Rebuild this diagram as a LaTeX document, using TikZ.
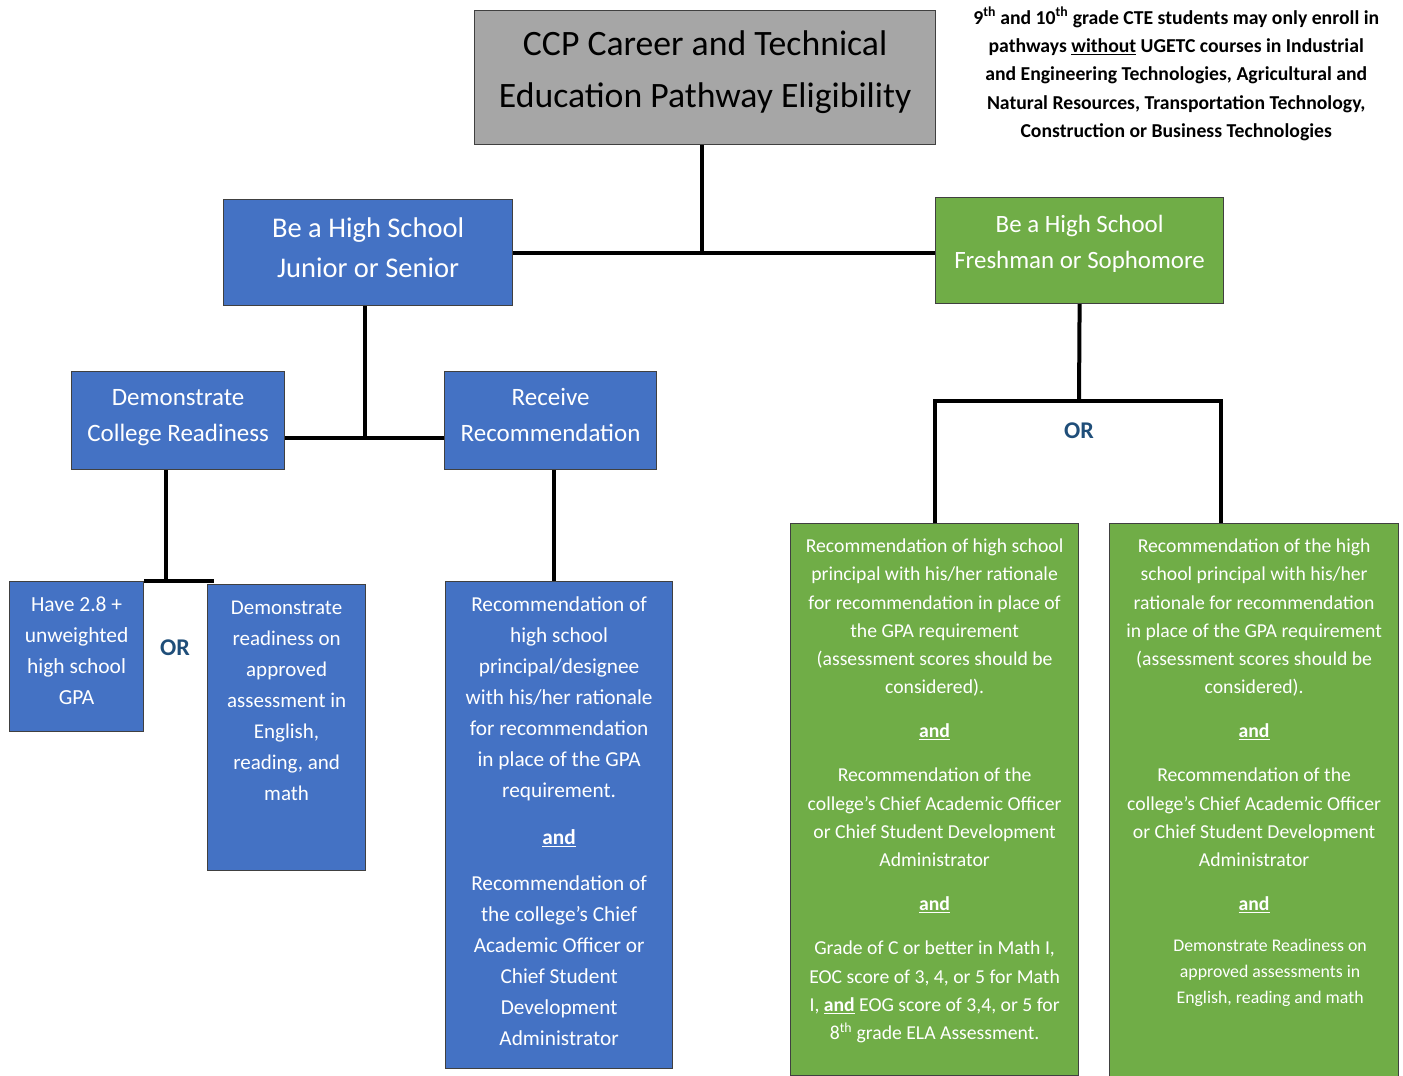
\documentclass[tikz,border=0pt]{standalone}
\usepackage{fontspec}
\setmainfont{Carlito}
\definecolor{azul}{HTML}{4472C4}
\definecolor{verde}{HTML}{70AD47}
\definecolor{gris}{HTML}{A6A6A6}
\definecolor{azuloscuro}{HTML}{1F4E79}
% alto, ancho, margen superior, texto
\newcommand{\textocaja}[4]{\parbox[c][#1][t]{#2}{\centering\vspace*{#3}\strut#4\par}}
\newcommand{\yy}{\textbf{\underline{and}}}
\tikzset{
  caja/.style={draw=black!75, line width=1.2pt, inner sep=0pt, anchor=north west, text=white},
  cajagris/.style={caja, fill=gris, text=black, font=\fontsize{35.7}{52}\selectfont},
  cajaazul/.style={caja, fill=azul},
  cajaverde/.style={caja, fill=verde},
  enlace/.style={line width=4pt},
  ou/.style={text=azuloscuro, font=\fontsize{24}{28}\selectfont\bfseries}
}
\begin{document}
\begin{tikzpicture}[x=1pt, y=-1pt]
    \useasboundingbox (0,0) rectangle (1403,1076);

    % Cajas
    \node[cajagris] (titulo) at (474,10)
        {\textocaja{134pt}{461pt}{8pt}{CCP Career and Technical\\Education Pathway Eligibility}};
    \node[anchor=north west, inner sep=0pt, font=\fontsize{19.7}{28.3}\selectfont\bfseries] (nota) at (966,0)
        {\textocaja{150pt}{420pt}{4.2pt}{9\textsuperscript{th} and 10\textsuperscript{th} grade CTE students may only enroll in\\
        pathways \underline{without} UGETC courses in Industrial\\and Engineering Technologies, Agricultural and\\
        Natural Resources, Transportation Technology,\\Construction or Business Technologies}};

    \node[cajaazul, font=\fontsize{28.5}{40}\selectfont] (junior) at (223,199)
        {\textocaja{106pt}{289pt}{10pt}{Be a High School\\Junior or Senior}};
    \node[cajaverde, font=\fontsize{24.9}{36}\selectfont] (freshman) at (935,197)
        {\textocaja{106pt}{288pt}{9.8pt}{Be a High School\\Freshman or Sophomore}};

    \node[cajaazul, font=\fontsize{25}{36}\selectfont] (college) at (71,371)
        {\textocaja{98pt}{213pt}{8.8pt}{Demonstrate\\College Readiness}};
    \node[cajaazul, font=\fontsize{25}{36}\selectfont] (recv) at (444,371)
        {\textocaja{98pt}{212pt}{8.8pt}{Receive\\Recommendation}};

    \node[cajaazul, font=\fontsize{21.5}{31}\selectfont] (gpa) at (9,581)
        {\textocaja{150pt}{134pt}{8.3pt}{Have 2.8 +\\unweighted\\high school\\GPA}};
    \node[cajaazul, font=\fontsize{21}{31}\selectfont] (assess) at (207,584)
        {\textocaja{286pt}{158pt}{8.3pt}{Demonstrate\\readiness on\\approved\\assessment in\\English,\\reading, and\\math}};
    \node[cajaazul, font=\fontsize{21.3}{31}\selectfont] (recbox) at (445,581)
        {\textocaja{487pt}{227pt}{8.3pt}{Recommendation of\\high school\\principal/designee\\with his/her rationale\\
        for recommendation\\in place of the GPA\\requirement.\\[16pt]\yy\\[15pt]Recommendation of\\
        the college’s Chief\\Academic Officer or\\Chief Student\\Development\\Administrator}};

    \node[cajaverde, font=\fontsize{19.7}{28.3}\selectfont] (greenA) at (790,523)
        {\textocaja{552pt}{288pt}{9pt}{Recommendation of high school\\principal with his/her rationale\\
        for recommendation in place of\\the GPA requirement\\(assessment scores should be\\considered).\\[15.7pt]
        \yy\\[15.7pt]Recommendation of the\\college’s Chief Academic Officer\\or Chief Student Development\\
        Administrator\\[15.7pt]\yy\\[15.7pt]Grade of C or better in Math I,\\EOC score of 3, 4, or 5 for Math\\
        I, \yy{} EOG score of 3,4, or 5 for\\8\textsuperscript{th} grade ELA Assessment.}};
    \node[cajaverde, font=\fontsize{19.7}{28.3}\selectfont] (greenB) at (1109,523)
        {\textocaja{553pt}{289pt}{9pt}{Recommendation of the high\\school principal with his/her\\
        rationale for recommendation\\in place of the GPA requirement\\(assessment scores should be\\considered).\\[15.7pt]
        \yy\\[15.7pt]Recommendation of the\\college’s Chief Academic Officer\\or Chief Student Development\\
        Administrator\\[15.7pt]\yy\par\vspace{15pt}
        {\fontsize{17.8}{26}\selectfont\leftskip=32pt plus 1fil Demonstrate Readiness on\\approved assessments in\\
        English, reading and math\par}}};

    \node[ou] (or1) at (175,648) {OR};
    \node[ou] (or2) at (1079,431) {OR};

    % Conectores
    \coordinate (unionjr) at (365,438);
    \coordinate (unionor) at (166,582);
    \coordinate (unionfr) at (1079,401);

    \draw[enlace] ([xshift=-3.5pt]titulo.south) -- ([xshift=-3.5pt]titulo.south |- junior.east);
    \draw[enlace] (junior.east) -- (junior.east -| freshman.west);

    \draw[enlace] (junior.south -| unionjr) -- (unionjr);
    \draw[enlace] (college.east |- unionjr) -- (recv.west |- unionjr);

    \draw[enlace] (college.south -| unionor) -- (unionor);
    \draw[enlace] (gpa.north east) -- ([xshift=7pt]gpa.north east -| assess.north west);
    \draw[enlace] ([xshift=3pt]recv.south) -- ([xshift=3pt]recv.south |- recbox.north);

    \draw[enlace] (freshman.south) -- (unionfr);
    \draw[enlace] (greenA.north) |- (unionfr) -| ([xshift=-33.5pt]greenB.north);

\end{tikzpicture}
\end{document}
